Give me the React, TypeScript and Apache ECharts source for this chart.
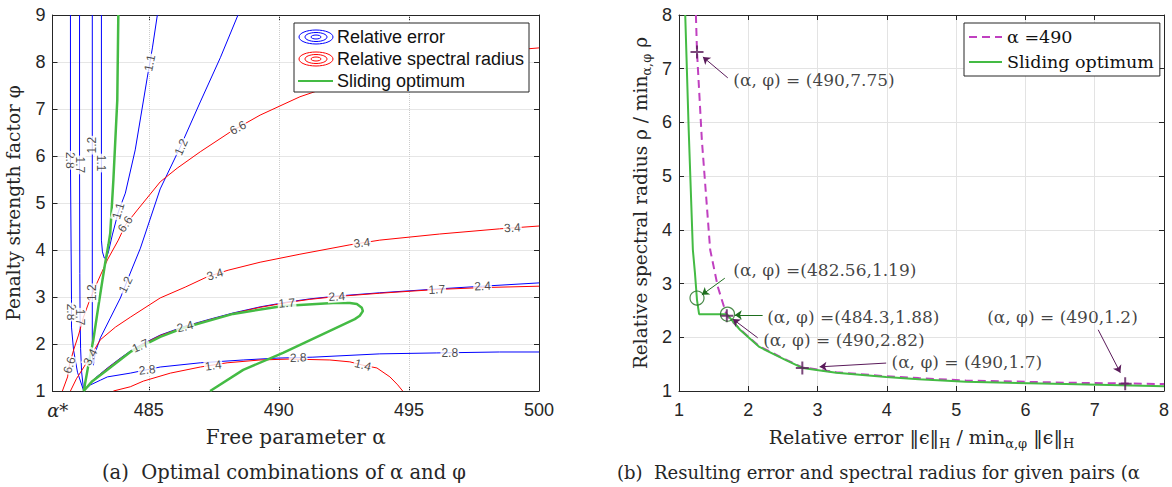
import React, { useEffect, useRef } from "react";
import * as echarts from "echarts";

const SERIF = "DejaVu Serif";
const SANS = "Liberation Sans";
const INK = "#262626";
const BLUE = "#0000ff";
const RED = "#ff0000";
const GREEN = "#44bb44";
const MAGENTA = "#c040c0";
const PURPLE = "#5a1a5a";
const DKGREEN = "#1e6e1e";

// ---------- panel (a): free parameter alpha vs penalty factor phi ----------
const alphaMin = 481.3;
const alphaMax = 500;
const alphaTicks = [485, 490, 495, 500];
const alphaStar = 481.5;
const phiMin = 1;
const phiMax = 9;

// relative error contours (blue)
const err28 = [[481.99, 9.0], [481.99, 5.9], [482.03, 2.94], [482.03, 2.36], [482.11, 1.87], [482.26, 1.4], [482.5, 1.0], [482.76, 1.13], [483.14, 1.23], [483.41, 1.3], [484.29, 1.38], [485.44, 1.51], [486.98, 1.6], [488.63, 1.66], [489.93, 1.7], [491.31, 1.72], [493.88, 1.79], [496.07, 1.81], [498.48, 1.83], [500, 1.83]];
const err17 = [[482.34, 9.0], [482.34, 5.8], [482.35, 3.5], [482.36, 2.6], [482.38, 1.9], [482.42, 1.4], [482.5, 1.0]];
const err12 = [[482.83, 9.0], [482.83, 6.2], [482.83, 2.94], [482.83, 1.77], [482.87, 1.55], [482.95, 1.83], [483.14, 2.13], [483.52, 2.55], [483.91, 2.98], [484.29, 3.51], [484.68, 4.04], [485.44, 5.3], [486.21, 6.19], [486.98, 7.15], [487.75, 8.09], [488.43, 9.0]];
const err11 = [[483.18, 9.0], [483.18, 6.0], [483.18, 4.21], [483.22, 3.96], [483.29, 3.83], [483.37, 3.83], [483.45, 3.96], [483.6, 4.32], [483.83, 4.81], [484.1, 5.21], [484.48, 6.13], [484.94, 7.66], [485.14, 8.3], [485.33, 9.0]];
const err24 = [[482.5, 1.0], [482.95, 1.28], [483.41, 1.49], [483.91, 1.7], [484.29, 1.85], [484.68, 1.98], [485.44, 2.19], [486.4, 2.38], [487.36, 2.53], [488.24, 2.66], [489.28, 2.79], [490.31, 2.89], [491.19, 2.96], [492.23, 3.02], [493.88, 3.09], [496.07, 3.17], [497.83, 3.23], [500, 3.3]];

// relative spectral radius contours (red)
const rho66 = [[481.68, 1.0], [481.88, 1.3], [481.95, 1.55], [482.11, 1.87], [482.3, 2.19], [482.49, 2.57], [482.76, 2.98], [483.06, 3.36], [483.41, 3.79], [483.83, 4.21], [484.1, 4.53], [484.56, 4.85], [485.44, 5.45], [486.09, 5.74], [486.98, 6.09], [488.13, 6.51], [489.28, 6.87], [490.81, 7.26], [492.35, 7.55], [494.65, 7.85], [496.95, 8.11], [498.48, 8.23], [500, 8.3]];
const rho34 = [[481.99, 1.0], [482.22, 1.26], [482.53, 1.53], [482.76, 1.74], [483.14, 2.09], [483.72, 2.36], [484.29, 2.57], [485.44, 2.98], [486.4, 3.21], [487.25, 3.43], [488.05, 3.57], [489.28, 3.74], [490.81, 3.91], [492.73, 4.11], [493.88, 4.21], [496.18, 4.34], [498.48, 4.45], [500, 4.51]];
const rho17 = [[482.5, 1.0], [482.95, 1.27], [483.41, 1.48], [483.91, 1.69], [484.29, 1.84], [484.68, 1.97], [485.44, 2.18], [486.4, 2.37], [487.36, 2.52], [488.24, 2.65], [489.28, 2.78], [490.31, 2.88], [491.19, 2.95], [492.23, 3.01], [493.88, 3.08], [496.07, 3.16], [497.83, 3.2], [500, 3.23]];
const rho14 = [[483.64, 1.0], [484.29, 1.09], [484.79, 1.21], [485.83, 1.38], [486.98, 1.51], [488.01, 1.6], [489.28, 1.66], [490.43, 1.68], [491.96, 1.66], [492.73, 1.62], [493.23, 1.55], [493.77, 1.49], [494.27, 1.3], [494.57, 1.13], [494.76, 1.0]];

// sliding optimum (green)
const slidingA = [[483.83, 9.0], [483.79, 7.19], [483.64, 5.49], [483.52, 4.36], [483.45, 4.11], [483.33, 3.74], [483.22, 3.36], [483.06, 2.79], [482.87, 2.09], [482.68, 1.55], [482.5, 1.0], [482.83, 1.21], [483.41, 1.45], [484.29, 1.83], [485.44, 2.15], [486.32, 2.34], [488.24, 2.64], [490.16, 2.81], [492.08, 2.87], [492.73, 2.87], [493.0, 2.85], [493.19, 2.77], [493.23, 2.7], [493.11, 2.6], [492.92, 2.53], [491.96, 2.28], [490.16, 1.81], [488.63, 1.45], [487.36, 1.0]];

// contour labels: [text, alpha, phi, rotation]
const errLabels: [string, number, number, number][] = [
  ["2.8", 481.99, 5.91, -90], ["2.8", 482.03, 2.68, -90],
  ["1.7", 482.34, 5.81, -90], ["1.7", 482.36, 2.57, -90],
  ["1.2", 482.83, 6.23, 90], ["1.2", 482.83, 3.09, 90],
  ["1.1", 483.18, 5.85, -90], ["1.1", 483.83, 4.83, 74], ["1.1", 485.04, 7.98, 78],
  ["1.2", 484.11, 3.26, 64], ["1.2", 486.25, 6.19, 66],
  ["2.8", 484.94, 1.45, 6], ["2.8", 490.74, 1.71, 2], ["2.8", 496.57, 1.81, 0],
  ["2.4", 486.4, 2.37, 14], ["2.4", 492.23, 3.01, 4], ["2.4", 497.83, 3.23, 3],
];
const rhoLabels: [string, number, number, number][] = [
  ["6.6", 481.95, 1.55, 72], ["6.6", 484.1, 4.55, 55], ["6.6", 488.43, 6.6, 28],
  ["3.4", 482.76, 1.72, 62], ["3.4", 487.55, 3.48, 17], ["3.4", 493.19, 4.15, 6], ["3.4", 498.98, 4.47, 3],
  ["1.7", 484.68, 1.96, 25], ["1.7", 490.31, 2.87, 4], ["1.7", 496.07, 3.16, 3],
  ["1.4", 487.48, 1.54, 8], ["1.4", 493.23, 1.55, -15],
];

// ---------- panel (b): relative error vs relative spectral radius ----------
const errMin = 1, errMax = 8, rhoMin = 1, rhoMax = 8;
const alpha490 = [[1.244, 8.0], [1.26, 7.31], [1.33, 5.67], [1.45, 3.63], [1.56, 2.94], [1.69, 2.4], [1.88, 2.15], [2.16, 1.83], [2.55, 1.58], [2.78, 1.44], [3.27, 1.35], [3.99, 1.275], [4.46, 1.24], [5.14, 1.195], [6.58, 1.155], [7.44, 1.14], [8.0, 1.13]];
const slidingB = [[1.09, 8.0], [1.14, 5.86], [1.2, 3.63], [1.23, 3.2], [1.26, 2.69], [1.29, 2.43], [1.69, 2.43], [1.88, 2.14], [2.16, 1.82], [2.55, 1.57], [2.78, 1.43], [3.27, 1.34], [3.99, 1.26], [4.46, 1.22], [5.14, 1.17], [6.58, 1.13], [8.0, 1.09]];
const plusMarks = [[1.26, 7.31], [1.69, 2.4], [2.78, 1.43], [7.44, 1.135]];
const circleMarks = [[1.26, 2.73], [1.7, 2.43]];
const notes: [string, number, number][] = [
  ["(α, φ) = (490,7.75)", 1.776, 6.79],
  ["(α, φ) =(482.56,1.19)", 1.776, 3.25],
  ["(α, φ) =(484.3,1.88)", 2.265, 2.38],
  ["(α, φ) = (490,2.82)", 2.207, 1.95],
  ["(α, φ) = (490,1.7)", 4.06, 1.54],
  ["(α, φ) = (490,1.2)", 5.44, 2.38],
];
// arrows: [x from, y from, x to, y to, colour]
const arrows: [number, number, number, number, string][] = [
  [1.704, 6.83, 1.345, 7.22, PURPLE],
  [1.661, 3.1, 1.33, 2.79, DKGREEN],
  [2.207, 2.415, 1.805, 2.415, DKGREEN],
  [2.136, 1.99, 1.776, 2.34, PURPLE],
  [3.99, 1.52, 3.03, 1.45, PURPLE],
  [7.05, 2.14, 7.37, 1.34, PURPLE],
];

const PLUS = "path://M0,6L12,6M6,0L6,12";

function contour(name: string, data: number[][], color: string, extra: any = {}) {
  return {
    name, type: "line", xAxisIndex: 0, yAxisIndex: 0, data,
    symbol: "none", showSymbol: false, silent: true, z: 2,
    lineStyle: { color, width: 1 }, itemStyle: { color }, ...extra,
  };
}

function labelSeries(name: string, labels: [string, number, number, number][]) {
  return {
    name, type: "scatter", xAxisIndex: 0, yAxisIndex: 0, silent: true, z: 5,
    symbol: "rect", symbolSize: 1, itemStyle: { color: "transparent" },
    data: labels.map(([t, a, p, r]) => ({ name: t, value: [a, p], label: { rotate: r } })),
    label: {
      show: true, position: "inside", formatter: "{b}", fontFamily: SANS, fontSize: 12,
      color: "#1a1a1a", backgroundColor: "#ffffff", padding: [0, 1],
    },
  };
}

function frameAxis(grid: number, pos: string, min: number, max: number, extra: any = {}) {
  return {
    type: "value", gridIndex: grid, position: pos, min, max,
    axisLine: { show: true, onZero: false, lineStyle: { color: INK, width: 1 } },
    axisTick: { show: true, inside: true, length: 5, lineStyle: { color: INK } },
    axisLabel: { show: false }, splitLine: { show: false }, ...extra,
  };
}

function nameStyle(size: number) {
  return {
    fontFamily: SERIF, fontSize: size, color: INK, lineHeight: size + 7,
    rich: { s: { fontFamily: SERIF, fontSize: Math.round(size * 0.7), lineHeight: Math.round(size * 0.7), verticalAlign: "bottom", color: INK } },
  };
}

function buildOption(): any {
  const tickLabel = { color: INK, fontFamily: SANS, fontSize: 18 };
  return {
    animation: false,
    backgroundColor: "#ffffff",
    textStyle: { fontFamily: SANS },
    grid: [
      { left: 52, top: 15, width: 487, height: 376 },
      { left: 679, top: 15, width: 487, height: 376 },
    ],
    xAxis: [
      frameAxis(0, "bottom", alphaMin, alphaMax, {
        axisTick: { show: true, inside: true, length: 5, customValues: alphaTicks, lineStyle: { color: INK } },
        axisLabel: {
          show: true, ...tickLabel, margin: 10, customValues: [alphaStar, ...alphaTicks],
          formatter: (v: number) => (Math.abs(v - alphaStar) < 1e-6 ? "{a|α*}" : String(v)),
          rich: { a: { fontFamily: SERIF, fontStyle: "italic", fontSize: 18, color: INK } },
        },
        name: "Free parameter α", nameLocation: "middle", nameGap: 31, nameTextStyle: nameStyle(20),
      }),
      frameAxis(0, "top", alphaMin, alphaMax, {
        axisTick: { show: true, inside: true, length: 5, customValues: alphaTicks, lineStyle: { color: INK } },
      }),
      frameAxis(1, "bottom", errMin, errMax, {
        interval: 1,
        axisLabel: { show: true, ...tickLabel, margin: 10 },
        splitLine: { show: true, lineStyle: { color: "#e3e3e3", width: 1 } },
        name: "Relative error ‖ϵ‖{s|H} / min{s|α,φ} ‖ϵ‖{s|H}", nameLocation: "middle", nameGap: 31, nameTextStyle: nameStyle(19),
      }),
      frameAxis(1, "top", errMin, errMax, { interval: 1 }),
    ],
    yAxis: [
      frameAxis(0, "left", phiMin, phiMax, {
        interval: 1,
        axisLabel: { show: true, ...tickLabel, margin: 7 },
        splitLine: { show: true, lineStyle: { color: "#cccccc", type: "dotted", width: 1 } },
        name: "Penalty strength factor φ", nameLocation: "middle", nameGap: 26, nameTextStyle: nameStyle(18.5),
      }),
      frameAxis(0, "right", phiMin, phiMax, { interval: 1 }),
      frameAxis(1, "left", rhoMin, rhoMax, {
        interval: 1,
        axisLabel: { show: true, ...tickLabel, margin: 7 },
        splitLine: { show: true, lineStyle: { color: "#e3e3e3", width: 1 } },
        name: "Relative spectral radius ρ / min{s|α,φ} ρ", nameLocation: "middle", nameGap: 26, nameTextStyle: nameStyle(18.5),
      }),
      frameAxis(1, "right", rhoMin, rhoMax, { interval: 1 }),
    ],
    legend: {
      show: true, data: ["α =490", "Sliding optimum"], orient: "vertical",
      left: 964, top: 23, itemWidth: 33, itemHeight: 14, itemGap: 5, padding: [4, 6, 4, 4],
      backgroundColor: "#ffffff", borderColor: INK, borderWidth: 1, borderRadius: 0,
      selectedMode: false,
      itemStyle: { opacity: 0, borderWidth: 0 },
      textStyle: { fontFamily: SERIF, fontSize: 17.5, color: "#111111", lineHeight: 20 },
    },
    graphic: [
      { type: "rect", z: 100, shape: { x: 294, y: 23, width: 235, height: 69 }, style: { fill: "#ffffff", stroke: INK, lineWidth: 1 } },
      { type: "ellipse", z: 101, shape: { cx: 316, cy: 37, rx: 17, ry: 7 }, style: { fill: "none", stroke: BLUE, lineWidth: 1 } },
      { type: "ellipse", z: 101, shape: { cx: 316, cy: 37, rx: 11, ry: 4.5 }, style: { fill: "none", stroke: BLUE, lineWidth: 1 } },
      { type: "ellipse", z: 101, shape: { cx: 316, cy: 37, rx: 5, ry: 2 }, style: { fill: "none", stroke: BLUE, lineWidth: 1 } },
      { type: "ellipse", z: 101, shape: { cx: 316, cy: 59, rx: 17, ry: 7 }, style: { fill: "none", stroke: RED, lineWidth: 1 } },
      { type: "ellipse", z: 101, shape: { cx: 316, cy: 59, rx: 11, ry: 4.5 }, style: { fill: "none", stroke: RED, lineWidth: 1 } },
      { type: "ellipse", z: 101, shape: { cx: 316, cy: 59, rx: 5, ry: 2 }, style: { fill: "none", stroke: RED, lineWidth: 1 } },
      { type: "line", z: 101, shape: { x1: 298, y1: 81, x2: 333, y2: 81 }, style: { stroke: GREEN, lineWidth: 2 } },
      { type: "text", z: 101, x: 337, y: 37, style: { text: "Relative error", fontFamily: SANS, fontSize: 18, fill: "#111111", verticalAlign: "middle", textVerticalAlign: "middle" } },
      { type: "text", z: 101, x: 337, y: 59, style: { text: "Relative spectral radius", fontFamily: SANS, fontSize: 18, fill: "#111111", verticalAlign: "middle", textVerticalAlign: "middle" } },
      { type: "text", z: 101, x: 337, y: 81, style: { text: "Sliding optimum", fontFamily: SANS, fontSize: 18, fill: "#111111", verticalAlign: "middle", textVerticalAlign: "middle" } },
      { type: "text", z: 101, x: 284, y: 472, style: { text: "(a)  Optimal combinations of α and φ", fontFamily: SERIF, fontSize: 19.5, fill: INK, align: "center", textAlign: "center", verticalAlign: "middle", textVerticalAlign: "middle" } },
      { type: "text", z: 101, x: 617, y: 472, style: { text: "(b)  Resulting error and spectral radius for given pairs (α", fontFamily: SERIF, fontSize: 18, fill: INK, align: "left", textAlign: "left", verticalAlign: "middle", textVerticalAlign: "middle" } },
    ],
    series: [
      contour("Relative error 2.8", err28, BLUE, {
        markLine: {
          silent: true, symbol: ["none", "none"], z: 1, label: { show: false },
          lineStyle: { type: "dotted", color: "#cccccc", width: 1 },
          data: alphaTicks.filter((v) => v < alphaMax).map((v) => ({ xAxis: v })),
        },
      }),
      contour("Relative error 1.7", err17, BLUE),
      contour("Relative error 1.2", err12, BLUE),
      contour("Relative error 1.1", err11, BLUE),
      contour("Relative error 2.4", err24, BLUE),
      contour("Relative spectral radius 6.6", rho66, RED),
      contour("Relative spectral radius 3.4", rho34, RED),
      contour("Relative spectral radius 1.7", rho17, RED),
      contour("Relative spectral radius 1.4", rho14, RED),
      labelSeries("error labels", errLabels),
      labelSeries("radius labels", rhoLabels),
      {
        name: "Sliding optimum (a)", type: "line", xAxisIndex: 0, yAxisIndex: 0, data: slidingA,
        symbol: "none", showSymbol: false, silent: true, z: 4,
        lineStyle: { color: GREEN, width: 2.5 }, itemStyle: { color: GREEN },
      },
      {
        name: "α =490", type: "line", xAxisIndex: 2, yAxisIndex: 2, data: alpha490,
        symbol: "none", showSymbol: false, silent: true, z: 2,
        lineStyle: { color: MAGENTA, width: 2, type: [8, 5] }, itemStyle: { color: MAGENTA },
      },
      {
        name: "Sliding optimum", type: "line", xAxisIndex: 2, yAxisIndex: 2, data: slidingB,
        symbol: "none", showSymbol: false, silent: true, z: 3,
        lineStyle: { color: GREEN, width: 2 }, itemStyle: { color: GREEN },
      },
      {
        name: "pairs", type: "scatter", xAxisIndex: 2, yAxisIndex: 2, data: plusMarks, silent: true, z: 5,
        symbol: PLUS, symbolSize: 13, itemStyle: { color: "none", borderColor: PURPLE, borderWidth: 2 },
      },
      {
        name: "optima", type: "scatter", xAxisIndex: 2, yAxisIndex: 2, data: circleMarks, silent: true, z: 5,
        symbol: "circle", symbolSize: 14, itemStyle: { color: "none", borderColor: DKGREEN, borderWidth: 1.2 },
      },
      {
        name: "notes", type: "scatter", xAxisIndex: 2, yAxisIndex: 2, silent: true, z: 6,
        symbol: "rect", symbolSize: 1, itemStyle: { color: "transparent" },
        data: notes.map(([t, x, y]) => ({ name: t, value: [x, y] })),
        label: { show: true, position: "right", distance: 0, formatter: "{b}", fontFamily: SERIF, fontSize: 17, color: "#111111" },
        markLine: {
          silent: true, symbol: ["none", "arrow"], symbolSize: 7, label: { show: false },
          lineStyle: { width: 1, type: "solid" },
          data: arrows.map(([x1, y1, x2, y2, c]) => [
            { coord: [x1, y1], lineStyle: { color: c }, itemStyle: { color: c } },
            { coord: [x2, y2] },
          ]),
        },
      },
    ],
  };
}

export default function App() {
  const ref = useRef<HTMLDivElement>(null);
  useEffect(() => {
    if (!ref.current) return;
    const chart = echarts.init(ref.current, undefined, { renderer: "svg" });
    chart.setOption(buildOption());
    return () => chart.dispose();
  }, []);
  return (
    <div
      ref={ref}
      style={{ position: "fixed", left: 0, top: 0, width: 1172, height: 487, background: "#ffffff" }}
    />
  );
}
